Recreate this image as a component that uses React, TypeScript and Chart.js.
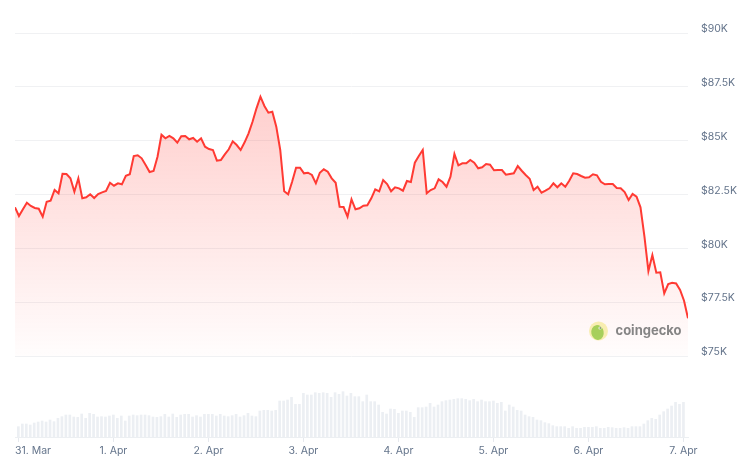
import React, { useEffect, useRef } from "react";
import { Chart, registerables } from "chart.js";

Chart.register(...registerables);

// hours after 31 Mar 00:00 of the first price sample (one sample per hour)
const START_HOUR = -0.85;

const prices = [
  81906, 81501, 81813, 82119, 81966, 81873, 81840, 81469, 82166, 82212,
  82709, 82556, 83466, 83452, 83252, 82630, 83252, 82323, 82370, 82509,
  82337, 82523, 82602, 82662, 83048, 82909, 83020, 82974, 83373, 83438,
  84288, 84320, 84181, 83870, 83545, 83591, 84255, 85277, 85110, 85217,
  85110, 84906, 85203, 85217, 85063, 85124, 84952, 85110, 84720, 84613,
  84567, 84070, 84102, 84367, 84599, 84971, 84799, 84567, 84924, 85342,
  85881, 86503, 87042, 86610, 86299, 86345, 85649, 84567, 82649, 82509,
  83094, 83745, 83745, 83484, 83512, 83406, 83020, 83512, 83670, 83559,
  83252, 83048, 81933, 81919, 81469, 82277, 81813, 81859, 81980, 81999,
  82323, 82741, 82649, 83173, 82988, 82649, 82834, 82788, 82676, 83127,
  83080, 83977, 84288, 84567, 82556, 82709, 82788, 83206, 83080, 82862,
  83327, 84381, 83856, 83949, 83949, 84102, 83977, 83717, 83763, 83916,
  83884, 83624, 83638, 83638, 83419, 83452, 83484, 83823, 83605, 83406,
  83234, 82709, 82862, 82584, 82676, 82788, 83020, 82834, 83020, 82862,
  83141, 83484, 83452, 83359, 83280, 83300, 83438, 83392, 83094, 82974,
  82988, 82988, 82802, 82788, 82616, 82245, 82523, 82398, 81906, 80540,
  78947, 79690, 78868, 78887, 77912, 78344, 78404, 78373, 78065, 77568,
  76751,
];

// 24h volume (USD billions), one bar per hour from 31 Mar 00:00
const volumes = [
  12.8, 16.0, 16.0, 14.8, 17.2, 18.4, 19.6, 18.4, 20.8, 18.8,
  22.8, 24.8, 26.8, 26.8, 24.4, 24.0, 28.0, 22.8, 28.8, 27.6,
  24.4, 24.8, 24.4, 25.6, 26.8, 22.8, 25.6, 19.6, 25.6, 26.8,
  26.0, 26.8, 26.8, 26.0, 24.4, 24.0, 24.8, 27.6, 24.4, 28.0,
  24.0, 26.8, 27.6, 27.6, 24.4, 26.0, 24.4, 27.6, 27.6, 27.6,
  25.6, 27.6, 25.6, 24.8, 26.0, 27.6, 24.4, 26.0, 28.8, 25.6,
  24.8, 31.6, 32.4, 32.4, 31.6, 32.4, 43.6, 43.6, 44.8, 48.0,
  39.6, 39.6, 52.8, 50.8, 50.8, 53.6, 52.8, 53.6, 52.8, 48.0,
  53.6, 51.6, 54.8, 49.6,
  52.8, 48.8, 48.8, 42.8, 50.8, 42.8, 42.8, 38.8, 30.0, 28.0,
  34.0, 33.6, 28.8, 31.6, 31.6, 30.0, 24.0, 35.6, 35.6, 36.4,
  40.8, 36.4, 38.8, 42.8, 44.0, 44.8, 45.6, 46.4, 46.4, 45.6,
  44.0, 45.6, 42.8, 44.8, 42.8, 42.8, 43.6, 40.8, 42.0, 31.6,
  38.8, 36.4, 32.4, 31.6, 26.8, 24.8, 24.0, 20.8, 20.0, 17.6,
  16.4, 14.0, 12.8, 12.8, 12.8, 10.8, 12.8, 10.8, 10.8, 12.0,
  12.0, 12.0, 12.8, 10.8, 10.8, 12.0, 11.6, 10.8, 10.8, 11.6,
  10.8, 12.8, 12.8, 12.8, 16.0, 20.0, 22.8, 21.6, 26.8, 30.8,
  34.0, 37.6, 42.0, 39.6, 42.0,
];

const dayTicks = [0, 24, 48, 72, 96, 120, 144, 168];
const dayLabels = ["31. Mar", "1. Apr", "2. Apr", "3. Apr", "4. Apr", "5. Apr", "6. Apr", "7. Apr"];
const priceTicks = [75000, 77500, 80000, 82500, 85000, 87500, 90000];

const LABEL_COLOR = "#64748b";
const FONT_FAMILY = "Inter, 'Noto Sans', sans-serif";
const FONT = { family: FONT_FAMILY, size: 10.5 };

export default function App() {
  const ref = useRef<HTMLCanvasElement>(null);

  useEffect(() => {
    const canvas = ref.current;
    if (!canvas) return;

    const priceData = prices.map((p, i) => ({ x: START_HOUR + i, y: p }));
    const volData = volumes.map((v, i) => ({ x: i, y: v }));

    // day labels: centred on their tick, but kept inside the plot on the left edge
    const dayLabelPlugin = {
      id: "dayLabels",
      afterDraw(chart: any) {
        const { ctx, chartArea } = chart;
        const xs = chart.scales.x;
        ctx.save();
        ctx.font = `${FONT.size}px ${FONT_FAMILY}`;
        ctx.fillStyle = LABEL_COLOR;
        ctx.textAlign = "left";
        ctx.textBaseline = "alphabetic";
        dayTicks.forEach((v, i) => {
          const label = dayLabels[i];
          const w = ctx.measureText(label).width;
          const px = xs.getPixelForValue(v);
          const left = Math.max(px - w / 2, chartArea.left);
          ctx.fillText(label, left, chartArea.bottom + 16.5);
        });
        ctx.restore();
      },
    };

    const watermark = {
      id: "watermark",
      afterDatasetsDraw(chart: any) {
        const { ctx, chartArea } = chart;
        const cx = chartArea.right - 89.5;
        const cy = chartArea.top + 298;
        ctx.save();
        ctx.globalAlpha = 0.75;
        ctx.beginPath();
        ctx.arc(cx, cy, 9.5, 0, Math.PI * 2);
        ctx.fillStyle = "#f5e99a";
        ctx.fill();
        ctx.beginPath();
        ctx.ellipse(cx - 1, cy + 1.5, 6.2, 7.5, -0.2, 0, Math.PI * 2);
        ctx.fillStyle = "#8cc63f";
        ctx.fill();
        ctx.beginPath();
        ctx.arc(cx + 1.5, cy - 3, 1.6, 0, Math.PI * 2);
        ctx.fillStyle = "#ffffff";
        ctx.fill();
        ctx.beginPath();
        ctx.arc(cx + 1.8, cy - 3, 0.8, 0, Math.PI * 2);
        ctx.fillStyle = "#333333";
        ctx.fill();
        ctx.globalAlpha = 1;
        ctx.font = `bold 13px ${FONT_FAMILY}`;
        ctx.fillStyle = "rgba(120,120,120,0.9)";
        ctx.textBaseline = "middle";
        ctx.textAlign = "left";
        ctx.fillText("coingecko", cx + 17, cy);
        ctx.restore();
      },
    };

    const chart = new Chart(canvas, {
      type: "line",
      data: {
        datasets: [
          {
            type: "line",
            data: priceData,
            yAxisID: "y",
            borderColor: "#ff3a33",
            borderWidth: 2,
            pointRadius: 0,
            tension: 0,
            order: 1,
            fill: { value: 75000 },
            backgroundColor: (c: any) => {
              const ch = c.chart;
              const { chartArea } = ch;
              if (!chartArea) return "rgba(255,58,51,0.15)";
              const yTop = ch.scales.y.getPixelForValue(90000);
              const yBot = ch.scales.y.getPixelForValue(75000);
              const g = ch.ctx.createLinearGradient(0, yTop, 0, yBot);
              g.addColorStop(0, "rgba(255,58,51,0.30)");
              g.addColorStop(1, "rgba(255,58,51,0.01)");
              return g;
            },
          },
          {
            type: "bar",
            data: volData,
            yAxisID: "yVol",
            backgroundColor: "#eceff3",
            barPercentage: 0.75,
            categoryPercentage: 0.9,
            order: 2,
          },
        ],
      },
      options: {
        responsive: false,
        animation: false,
        layout: { padding: { left: 15, top: 33, right: 0, bottom: 0 } },
        plugins: {
          legend: { display: false },
          tooltip: { enabled: false },
        },
        scales: {
          x: {
            type: "linear",
            offset: false,
            min: START_HOUR,
            max: START_HOUR + prices.length - 1,
            afterBuildTicks: (axis: any) => {
              axis.ticks = dayTicks.map((v) => ({ value: v }));
            },
            afterFit: (s: any) => {
              s.height = 30;
            },
            ticks: {
              display: false,
              autoSkip: false,
              maxRotation: 0,
            },
            grid: {
              offset: false,
              drawOnChartArea: false,
              drawTicks: true,
              tickLength: 5,
              color: "#e6e9ee",
            },
            border: { display: true, color: "#eceff2" },
          },
          y: {
            position: "right",
            min: 71240,
            max: 90000,
            afterBuildTicks: (axis: any) => {
              axis.ticks = priceTicks.map((v) => ({ value: v }));
            },
            afterFit: (s: any) => {
              s.width = 62;
            },
            ticks: {
              padding: 13,
              labelOffset: -4,
              color: LABEL_COLOR,
              font: FONT,
              callback: (v: any) => "$" + Number(v) / 1000 + "K",
            },
            grid: { color: "#f0f1f3", drawTicks: false },
            border: { display: false },
          },
          yVol: {
            display: false,
            min: 0,
            max: Math.max(...volumes) * 8.85,
          },
        },
      },
      plugins: [watermark, dayLabelPlugin],
    } as any);

    return () => chart.destroy();
  }, []);

  return (
    <div style={{ position: "absolute", left: 0, top: 0, width: 750, height: 467, background: "#fff" }}>
      <canvas ref={ref} width={750} height={467} style={{ display: "block" }} />
    </div>
  );
}
